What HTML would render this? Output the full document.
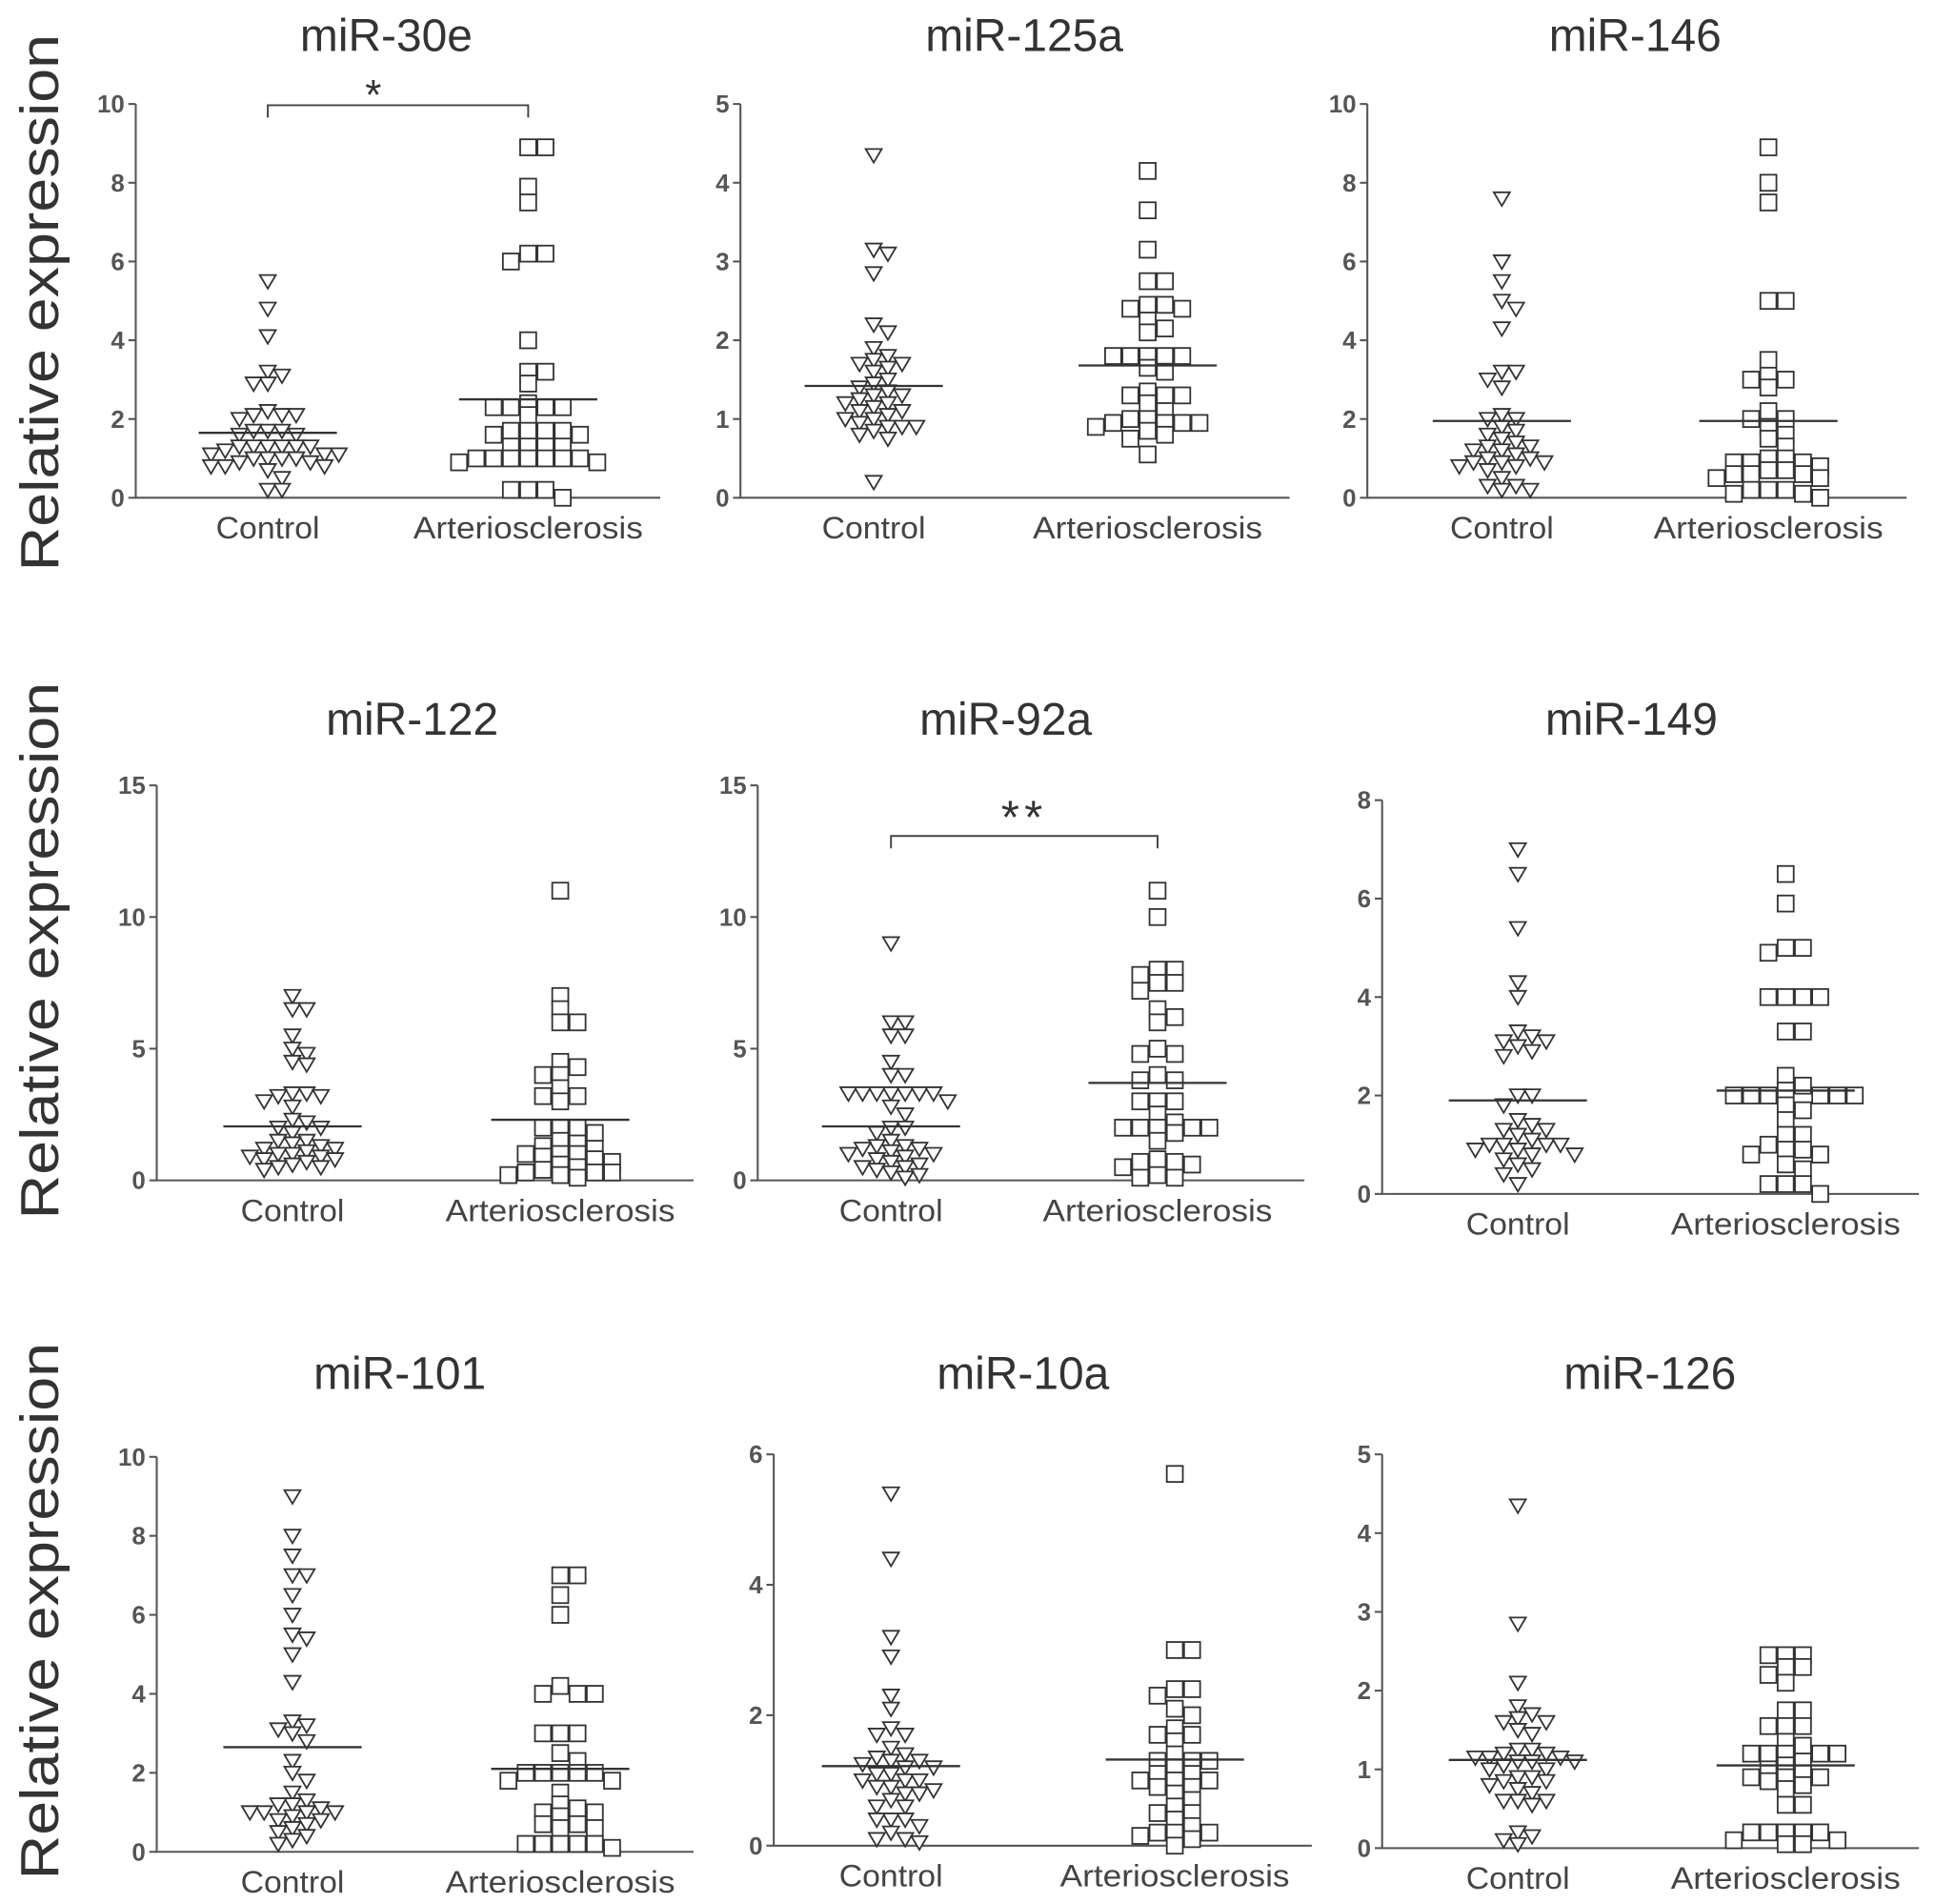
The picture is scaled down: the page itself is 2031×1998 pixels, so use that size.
<!DOCTYPE html>
<html><head><meta charset="utf-8"><style>
html,body{margin:0;padding:0;background:#fff}
svg{display:block}
</style></head><body>
<svg id="fig" width="2031" height="1998" viewBox="0 0 1568 1542" xmlns="http://www.w3.org/2000/svg" font-family="Liberation Sans, sans-serif"></svg>
<script>
const panelTitles=["miR-30e","miR-125a","miR-146","miR-122","miR-92a","miR-149","miR-101","miR-10a","miR-126"];
const categories=["Control","Arteriosclerosis"];
const yMax=[10,5,10,15,15,8,10,6,5];
const yStep=[2,1,2,5,5,2,2,2,1];
const controlValues=[
[5.5,4.8,4.1,3.2,3.1,2.9,2.9,2.2,2.1,2.1,2.1,2.0,1.7,1.7,1.7,1.6,1.6,1.3,1.3,1.3,1.3,1.3,1.3,1.2,1.1,1.1,1.1,1.0,1.0,1.0,1.0,0.9,0.9,0.8,0.8,0.8,0.7,0.5,0.2,0.2],
[4.35,3.15,3.1,2.85,2.2,2.1,1.9,1.8,1.75,1.7,1.7,1.65,1.6,1.5,1.45,1.4,1.35,1.3,1.3,1.25,1.2,1.2,1.15,1.1,1.1,1.05,1.0,1.0,0.95,0.9,0.9,0.9,0.85,0.8,0.75,0.2],
[7.6,6.0,5.5,5.0,4.8,4.3,3.2,3.2,3.0,2.8,2.1,2.0,2.0,1.8,1.7,1.6,1.5,1.4,1.3,1.3,1.2,1.2,1.1,1.0,1.0,0.9,0.9,0.9,0.8,0.8,0.7,0.5,0.3,0.3,0.2,0.2],
[7.0,6.5,6.5,5.5,5.0,4.8,4.5,4.4,3.3,3.3,3.2,3.2,3.0,2.8,2.3,2.2,2.0,2.0,1.8,1.5,1.5,1.4,1.3,1.2,1.2,1.1,1.0,1.0,0.9,0.9,0.8,0.8,0.7,0.6,0.5,0.5,0.4],
[9.0,6.0,6.0,5.5,5.5,4.5,4.0,4.0,3.3,3.3,3.3,3.3,3.3,3.3,3.3,3.0,2.8,2.5,2.0,2.0,1.8,1.5,1.3,1.3,1.2,1.2,1.1,1.0,1.0,0.9,0.8,0.7,0.6,0.5,0.5,0.4,0.3,0.2,0.1],
[7.0,6.5,5.4,4.3,4.0,3.3,3.2,3.1,3.1,3.0,2.9,2.8,2.0,2.0,1.8,1.5,1.4,1.3,1.3,1.2,1.1,1.0,1.0,1.0,1.0,0.9,0.9,0.8,0.8,0.7,0.6,0.5,0.4,0.2],
[9.0,8.0,7.5,7.0,7.0,6.5,6.0,5.5,5.4,5.0,4.3,3.3,3.1,3.0,3.2,2.8,2.3,2.0,1.8,1.5,1.3,1.2,1.2,1.1,1.0,1.0,1.0,1.0,0.9,0.8,0.8,0.7,0.6,0.5,0.4,0.3,0.2],
[5.4,4.4,3.2,2.9,2.3,2.1,1.8,1.7,1.7,1.5,1.4,1.35,1.3,1.3,1.25,1.2,1.2,1.1,1.1,1.0,1.0,1.0,0.9,0.9,0.85,0.8,0.8,0.7,0.6,0.6,0.4,0.4,0.4,0.3,0.2,0.1,0.1,0.05],
[4.35,2.85,2.1,1.8,1.7,1.65,1.6,1.6,1.5,1.45,1.25,1.25,1.2,1.2,1.15,1.15,1.15,1.1,1.1,1.1,1.05,1.0,1.0,0.9,0.9,0.85,0.85,0.8,0.75,0.7,0.6,0.6,0.6,0.55,0.2,0.15,0.1,0.05]];
const arterioValues=[
[8.9,8.9,7.9,7.5,6.2,6.2,6.0,4.0,3.2,3.2,2.9,2.4,2.3,2.3,2.3,2.3,2.1,1.7,1.7,1.7,1.7,1.6,1.6,1.3,1.3,1.3,1.3,1.0,1.0,1.0,1.0,1.0,1.0,1.0,0.9,0.9,0.2,0.2,0.2,0.0],
[4.15,3.65,3.15,2.75,2.75,2.45,2.45,2.4,2.4,2.25,2.15,2.1,1.8,1.8,1.8,1.8,1.8,1.65,1.6,1.35,1.3,1.3,1.3,1.2,1.1,1.0,1.0,0.95,0.95,0.95,0.95,0.9,0.85,0.8,0.75,0.55],
[8.9,8.0,7.5,5.0,5.0,3.5,3.1,3.0,3.0,2.8,2.2,2.0,2.0,1.8,1.6,1.5,1.3,1.0,1.0,0.9,0.9,0.9,0.8,0.7,0.7,0.6,0.6,0.6,0.5,0.5,0.2,0.2,0.2,0.1,0.1,0.0],
[11.0,7.0,6.5,6.0,6.0,4.5,4.3,4.0,4.0,3.5,3.2,3.2,3.0,2.0,2.0,2.0,1.8,1.5,1.4,1.3,1.2,1.0,1.0,1.0,0.9,0.8,0.7,0.6,0.5,0.4,0.3,0.3,0.3,0.2,0.2,0.1],
[11.0,10.0,8.0,8.0,7.8,7.5,7.5,7.2,6.5,6.2,6.0,5.0,4.8,4.8,4.0,3.8,3.8,3.0,3.0,3.0,2.5,2.2,2.0,2.0,2.0,2.0,2.0,1.8,1.5,0.8,0.7,0.7,0.6,0.5,0.2,0.1,0.1],
[6.5,5.9,5.0,5.0,4.9,4.0,4.0,4.0,4.0,3.3,3.3,2.4,2.2,2.1,2.0,2.0,2.0,2.0,2.0,2.0,1.8,1.7,1.5,1.2,1.2,1.0,0.9,0.9,0.8,0.8,0.6,0.5,0.2,0.2,0.2,0.0],
[7.0,7.0,6.5,6.0,4.2,4.0,4.0,4.0,3.0,3.0,3.0,2.5,2.3,2.0,2.0,2.0,2.0,2.0,1.8,1.8,1.5,1.2,1.1,1.0,1.0,0.9,0.7,0.7,0.6,0.6,0.2,0.2,0.2,0.2,0.2,0.1],
[5.7,3.0,3.0,2.4,2.4,2.3,2.1,2.0,1.8,1.7,1.7,1.6,1.4,1.3,1.3,1.3,1.2,1.1,1.1,1.0,1.0,1.0,0.9,0.9,0.8,0.7,0.6,0.5,0.5,0.4,0.3,0.2,0.2,0.2,0.15,0.1,0.0],
[2.45,2.45,2.45,2.3,2.3,2.2,2.1,1.75,1.75,1.55,1.55,1.55,1.35,1.3,1.2,1.2,1.2,1.2,1.2,1.1,1.05,1.0,0.95,0.9,0.9,0.9,0.85,0.8,0.75,0.55,0.55,0.2,0.2,0.2,0.2,0.2,0.1,0.1,0.05,0.05]];
const controlMean=[1.65,1.42,1.95,2.05,2.05,1.9,2.65,1.22,1.12];
const arterioMean=[2.5,1.68,1.95,2.3,3.7,2.1,2.1,1.32,1.05];
const sigLabels=["*","","","","**","","","",""];

const layout=[
{ax:110,top:84,bot:403,right:535,c:[217,428],title:28,tx:313},
{ax:600,top:84,bot:403,right:1045,c:[708,930],title:28,tx:830},
{ax:1108,top:84,bot:403,right:1545,c:[1217,1433],title:28,tx:1325},
{ax:127,top:636,bot:956,right:562,c:[237,454],title:582,tx:334},
{ax:614,top:636,bot:956,right:1057,c:[722,938],title:582,tx:815},
{ax:1120,top:648,bot:967,right:1555,c:[1230,1447],title:582,tx:1322},
{ax:127,top:1180,bot:1500,right:562,c:[237,454],title:1112,tx:324},
{ax:627,top:1178,bot:1495,right:1063,c:[722,952],title:1112,tx:829},
{ax:1120,top:1178,bot:1497,right:1555,c:[1230,1447],title:1112,tx:1337}];
const NS="http://www.w3.org/2000/svg";
const svg=document.getElementById('fig');
function mk(tag,attrs,parent){const e=document.createElementNS(NS,tag);for(const k in attrs)e.setAttribute(k,attrs[k]);(parent||svg).appendChild(e);return e;}

[245,770,1305].forEach((cy,i)=>{
 const t=mk('text',{x:0,y:0,transform:`translate(47,${cy}) rotate(-90)`,'text-anchor':'middle','font-size':44,fill:'#333',textLength:435,lengthAdjust:'spacingAndGlyphs'});
 
 
 t.textContent='Relative expression';
});

function swarm(vals,cx,yf,d){
 const placed=[];
 const sorted=vals.slice().sort((a,b)=>b-a);
 const out=[];
 sorted.forEach(v=>{
  const y=yf(v);
  for(let k=0;k<40;k++){
   const off=(k===0)?0:(k%2? Math.ceil(k/2): -Math.ceil(k/2))*d;
   const x=cx+off;
   if(!placed.some(p=>Math.abs(p.x-x)<d-0.5&&Math.abs(p.y-y)<8)){placed.push({x,y});out.push({x,y,v});break;}
  }
 });
 return out;
}

panelTitles.forEach((title,i)=>{
 const L=layout[i];
 const g=mk('g',{});
 
 
 const yf=v=>L.bot-(v/yMax[i])*(L.bot-L.top);
 const tt=mk('text',{x:L.tx,y:L.title+13,'text-anchor':'middle','font-size':37,fill:'#333'},g);
 
 
 tt.textContent=title;
 const axes=mk('path',{d:`M${L.ax},${L.top}V${L.bot}H${L.right}`,stroke:'#555','stroke-width':1.6,fill:'none'},g);
 
 
 for(let t=0;t<=yMax[i]+1e-9;t+=yStep[i]){
  const y=yf(t);
  const tk=mk('line',{x1:L.ax-6,x2:L.ax,y1:y,y2:y,stroke:'#555','stroke-width':1.6},g);
  
  
  const tl=mk('text',{x:L.ax-9,y:y+7,'text-anchor':'end','font-size':20,'font-weight':'bold',fill:'#555'},g);
  
  
  tl.textContent=String(t);
 }
 categories.forEach((c,j)=>{
  const cl=mk('text',{x:L.c[j],y:L.bot+33,'text-anchor':'middle','font-size':25,fill:'#444',textLength:j===0?84:186,lengthAdjust:'spacingAndGlyphs'},g);
  
  
  cl.textContent=c;
 });
 [controlValues[i],arterioValues[i]].forEach((vals,j)=>{
  swarm(vals,L.c[j],yf,j===0?11.5:14).forEach(p=>{
   let m;
   if(j===0){m=mk('path',{d:`M${p.x-6.5},${p.y-5}H${p.x+6.5}L${p.x},${p.y+6}Z`,fill:'#fff',stroke:'#333','stroke-width':1.4},g);
    }
   else{m=mk('rect',{x:p.x-6.5,y:p.y-6.5,width:13,height:13,fill:'#fff',stroke:'#333','stroke-width':1.4},g);
    }
   
  });
 });
 [controlMean[i],arterioMean[i]].forEach((mv,j)=>{
  const ml=mk('line',{x1:L.c[j]-56,x2:L.c[j]+56,y1:yf(mv),y2:yf(mv),stroke:'#333','stroke-width':1.8},g);
  
  
 });
 if(sigLabels[i]){
  const by=(i===0)?85:677;
  const br=mk('path',{d:`M${L.c[0]},${by+10}V${by}H${L.c[1]}V${by+10}`,stroke:'#444','stroke-width':1.5,fill:'none'},g);
  
  
  const st=mk('text',{x:(L.c[0]+L.c[1])/2-(i===0?20:0),y:by+(i===0?3:-2),'text-anchor':'middle','font-size':i===0?34:38,fill:'#333','letter-spacing':i===0?0:4},g);
  
  
  st.textContent=sigLabels[i];
 }
});
</script>
</body></html>
